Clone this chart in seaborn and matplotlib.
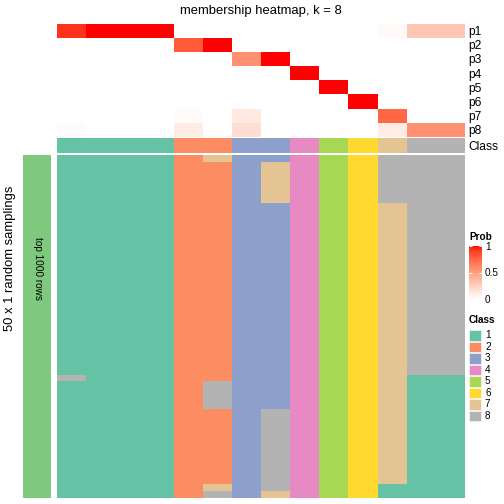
import numpy as np
import pandas as pd
import matplotlib
matplotlib.use("Agg")
import matplotlib.pyplot as plt
from matplotlib.colors import ListedColormap
from matplotlib.patches import Rectangle
import seaborn as sns

# ---------------- data ----------------
samples = [f"s{i+1}" for i in range(14)]
prob_rows = ["p1", "p2", "p3", "p4", "p5", "p6", "p7", "p8"]
p1 = [0.93, 1, 1, 1, 0, 0, 0, 0, 0, 0, 0, 0.03, 0.30, 0.30]
p2 = [0, 0, 0, 0, 0.80, 1, 0, 0, 0, 0, 0, 0, 0, 0]
p3 = [0, 0, 0, 0, 0, 0, 0.57, 1, 0, 0, 0, 0, 0, 0]
p4 = [0, 0, 0, 0, 0, 0, 0, 0, 1, 0, 0, 0, 0, 0]
p5 = [0, 0, 0, 0, 0, 0, 0, 0, 0, 1, 0, 0, 0, 0]
p6 = [0, 0, 0, 0, 0, 0, 0, 0, 0, 0, 1, 0, 0, 0]
p7 = [0, 0, 0, 0, 0.02, 0, 0.12, 0, 0, 0, 0, 0.75, 0, 0]
p8 = [0.02, 0, 0, 0, 0.10, 0, 0.17, 0, 0, 0, 0, 0.10, 0.57, 0.57]
sample_class = [1, 1, 1, 1, 2, 2, 3, 3, 4, 5, 6, 7, 8, 8]
class_labels = ["1", "2", "3", "4", "5", "6", "7", "8"]
class_colors = ["#66C2A5", "#FC8D62", "#8DA0CB", "#E78AC3",
                "#A6D854", "#FFD92F", "#E5C494", "#B3B3B3"]

# class assignments over 50 random samplings, per sample: (class, run length)
sampling_runs = [
    [(1, 32), (8, 1), (1, 17)],
    [(1, 50)],
    [(1, 50)],
    [(1, 50)],
    [(2, 50)],
    [(7, 1), (2, 32), (8, 4), (2, 11), (7, 1), (8, 1)],
    [(3, 50)],
    [(3, 1), (7, 6), (3, 30), (8, 12), (7, 1)],
    [(4, 50)],
    [(5, 50)],
    [(6, 50)],
    [(8, 7), (7, 41), (1, 2)],
    [(8, 32), (1, 18)],
    [(8, 32), (1, 18)],
]
n_samplings = 50
title = "membership heatmap, k = 8"

# ---------------- helpers ----------------
def _srgb_to_lab(rgb):
    rgb = np.asarray(rgb, float)
    c = np.where(rgb <= 0.04045, rgb / 12.92, ((rgb + 0.055) / 1.055) ** 2.4)
    M = np.array([[0.4124, 0.3576, 0.1805], [0.2126, 0.7152, 0.0722], [0.0193, 0.1192, 0.9505]])
    xyz = M @ c / np.array([0.95047, 1.0, 1.08883])
    f = np.where(xyz > 0.008856, np.cbrt(xyz), 7.787 * xyz + 16 / 116)
    return np.array([116 * f[1] - 16, 500 * (f[0] - f[1]), 200 * (f[1] - f[2])])

def _lab_to_srgb(lab):
    L, a, b = lab
    fy = (L + 16) / 116
    fx = fy + a / 500
    fz = fy - b / 200
    f = np.array([fx, fy, fz])
    xyz = np.where(f ** 3 > 0.008856, f ** 3, (f - 16 / 116) / 7.787) * np.array([0.95047, 1.0, 1.08883])
    Minv = np.linalg.inv(np.array([[0.4124, 0.3576, 0.1805], [0.2126, 0.7152, 0.0722], [0.0193, 0.1192, 0.9505]]))
    c = np.clip(Minv @ xyz, 0, 1)
    return np.clip(np.where(c <= 0.0031308, 12.92 * c, 1.055 * c ** (1 / 2.4) - 0.055), 0, 1)

lw = _srgb_to_lab([1, 1, 1])
lr = _srgb_to_lab([1, 0, 0])
prob_cmap = ListedColormap([_lab_to_srgb(lw + t * (lr - lw)) for t in np.linspace(0, 1, 256)])
class_cmap = ListedColormap(class_colors)

prob_df = pd.DataFrame([p1, p2, p3, p4, p5, p6, p7, p8], index=prob_rows, columns=samples)
class_df = pd.DataFrame([sample_class], index=["Class"], columns=samples)
sampling_cols = []
for runs in sampling_runs:
    col = []
    for cls, n in runs:
        col += [cls] * n
    sampling_cols.append(col)
sampling_df = pd.DataFrame(np.array(sampling_cols).T, columns=samples)

# ---------------- figure ----------------
plt.rcParams["font.family"] = ["Liberation Sans", "DejaVu Sans"]
W = H = 504
fig = plt.figure(figsize=(7, 7), dpi=72)

def px_axes(x0, y0, x1, y1):
    return fig.add_axes([x0 / W, 1 - y1 / H, (x1 - x0) / W, (y1 - y0) / H])

hx0, hx1 = 57, 465

# probability heatmap
ax_p = px_axes(hx0, 23.5, hx1, 137)
cax = px_axes(469, 246, 482, 299)
sns.heatmap(prob_df, ax=ax_p, cmap=prob_cmap, vmin=0, vmax=1, cbar_ax=cax,
            xticklabels=False, yticklabels=True, cbar_kws={"ticks": [0, 0.5, 1]})
ax_p.yaxis.tick_right()
ax_p.tick_params(axis="y", length=0, pad=3, labelsize=12, rotation=0)
ax_p.set_xlabel("")
ax_p.set_ylabel("")
cax.set_yticklabels(["0", "0.5", "1"])
cax.tick_params(axis="y", which="both", left=True, right=True, direction="in",
                color="white", length=3, width=1, labelsize=10, pad=3)
for s in cax.spines.values():
    s.set_visible(False)
fig.text(469 / W, 1 - 237 / H, "Prob", fontsize=10, fontweight="bold", ha="left", va="center")

# class annotation
ax_c = px_axes(hx0, 138, hx1, 152.7)
sns.heatmap(class_df, ax=ax_c, cmap=class_cmap, vmin=0.5, vmax=8.5, cbar=False,
            xticklabels=False, yticklabels=True)
ax_c.yaxis.tick_right()
ax_c.tick_params(axis="y", length=0, pad=3, labelsize=12, rotation=0)
ax_c.set_ylabel("")

# sampling heatmap
ax_s = px_axes(hx0, 155, hx1, 498)
sns.heatmap(sampling_df, ax=ax_s, cmap=class_cmap, vmin=0.5, vmax=8.5, cbar=False,
            xticklabels=False, yticklabels=False)

# left annotation bar
ax_l = px_axes(23, 155, 51, 498)
sns.heatmap(pd.DataFrame([[1]]), ax=ax_l, cmap=ListedColormap(["#7FC97F"]), cbar=False,
            xticklabels=False, yticklabels=False)
fig.text(38 / W, 1 - 268 / H, "top 1000 rows", rotation=270,
         ha="center", va="center", fontsize=10)
fig.text(10 / W, 1 - 258 / H, f"{n_samplings} x 1 random samplings", rotation=90,
         ha="center", va="center", fontsize=13)

# class legend
fig.text(469 / W, 1 - 320 / H, "Class", fontsize=10, fontweight="bold", ha="left", va="center")
ax_lg = px_axes(469, 330, 500, 422)
ax_lg.set_xlim(0, 31)
ax_lg.set_ylim(92, 0)
ax_lg.axis("off")
step = 11.5
for i, (lab, col) in enumerate(zip(class_labels, class_colors)):
    ax_lg.add_patch(Rectangle((0, i * step), 12, step - 1, facecolor=col, edgecolor="white", lw=0.5))
    ax_lg.text(16, i * step + (step - 1) / 2, lab, fontsize=10, ha="left", va="center")

fig.text(261 / W, 1 - 11 / H, title, ha="center", va="center", fontsize=13)

fig.savefig("out.png", dpi=72)
